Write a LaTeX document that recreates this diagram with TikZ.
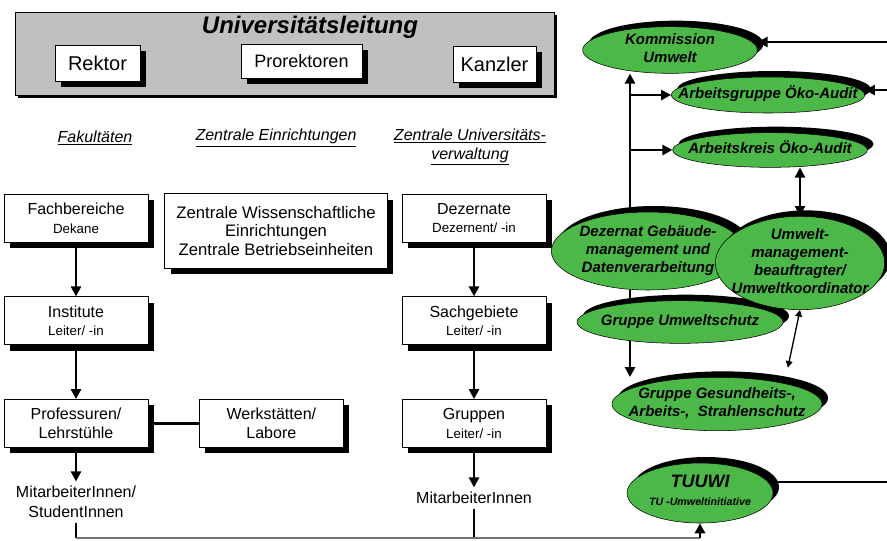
\documentclass[tikz,border=0pt]{standalone}
\usepackage{fontspec}
\setmainfont{Liberation Sans}
\usetikzlibrary{arrows.meta,shapes.geometric,shadows,backgrounds}
\definecolor{umweltgreen}{RGB}{76,184,72}
\definecolor{leitgray}{RGB}{192,192,192}
\newcommand{\elltext}[1]{\makebox[0pt]{\raisebox{-0.25em}[0pt][0pt]{\begin{tabular}{@{}c@{}}#1\end{tabular}}}}
\begin{document}
\begin{tikzpicture}[x=0.75pt, y=-0.75pt, node distance=77pt, >={Triangle[length=7.5pt,width=7.5pt]}]
    \tikzstyle{box} = [rectangle, minimum width=108pt, minimum height=36pt, draw=black, fill=white, align=center, font=\fontsize{12}{14}\selectfont, drop shadow={shadow xshift=4.5pt, shadow yshift=-4.5pt, opacity=1, fill=black}]
    \tikzstyle{leit} = [rectangle, draw=black, fill=white, drop shadow={shadow xshift=4.5pt, shadow yshift=-4.5pt, opacity=1, fill=black}]
    \tikzstyle{ell} = [ellipse, draw=black, fill=umweltgreen, inner sep=0pt, font=\fontsize{11.25}{13.5}\selectfont\bfseries\itshape, drop shadow={shadow xshift=4.5pt, shadow yshift=4.5pt, opacity=1, fill=black}]
    \tikzstyle{head} = [align=center, font=\fontsize{12}{14.5}\selectfont\itshape]
    \tikzstyle{staff} = [align=center, font=\fontsize{12}{15}\selectfont]
    \tikzstyle{link} = [line width=2pt]
    \useasboundingbox (0,0) rectangle (887,540);

    \node (uleit) [rectangle, draw=black, fill=leitgray, minimum width=404pt, minimum height=62pt, drop shadow={shadow xshift=2.25pt, shadow yshift=-2.25pt, opacity=1, fill=black}] at (284.5,53.5) {};
    \node (title) at (310,27) {\fontsize{18}{21}\selectfont\bfseries\itshape Universitätsleitung};
    \node (rektor) [leit, minimum width=64pt, minimum height=27pt, font=\fontsize{15}{18}\selectfont] at (97.5,63) {Rektor};
    \node (prorekt) [leit, minimum width=91pt, minimum height=25.5pt, font=\fontsize{13.5}{16}\selectfont] at (301.5,61) {Prorektoren};
    \node (kanzler) [leit, minimum width=62pt, minimum height=27pt, font=\fontsize{15}{18}\selectfont] at (494.5,64) {Kanzler};

    \node (hfak) [head] at (95,138) {\underline{Fakultäten}};
    \node (hzen) [head] at (276,138) {\underline{Zentrale Einrichtungen}};
    \node (hzuv) [head] at (470,147) {\underline{Zentrale Universitäts-}\\\underline{verwaltung}};

    \node (fb) [box] at (76,218) {Fachbereiche\\{\fontsize{10}{12}\selectfont Dekane}};
    \node (inst) [box, below of=fb] {Institute\\{\fontsize{10}{12}\selectfont Leiter/ -in}};
    \node (prof) [box, below of=inst] {Professuren/\\Lehrstühle};
    \node (werk) [box, node distance=146.5pt, right of=prof] {Werkstätten/\\Labore};
    \node (ms) [staff, node distance=59pt, below of=prof] {MitarbeiterInnen/\\StudentInnen};

    \node (zwe) [box, minimum width=167pt, minimum height=56pt, font=\fontsize{12.5}{14}\selectfont] at (276,231) {Zentrale Wissenschaftliche\\Einrichtungen\\Zentrale Betriebseinheiten};

    \node (dez) [box] at (474,218) {Dezernate\\{\fontsize{10}{12}\selectfont Dezernent/ -in}};
    \node (sach) [box, below of=dez] {Sachgebiete\\{\fontsize{10}{12}\selectfont Leiter/ -in}};
    \node (grp) [box, below of=sach] {Gruppen\\{\fontsize{10}{12}\selectfont Leiter/ -in}};
    \node (mr) [staff, node distance=56pt, below of=grp] {MitarbeiterInnen};

    \node (kom) [ell, minimum width=131pt, minimum height=35pt] at (670,50) {\elltext{Kommission\\Umwelt}};
    \node (agu) [ell, minimum width=145pt, minimum height=27pt] at (768,95) {\elltext{Arbeitsgruppe Öko-Audit}};
    \node (akr) [ell, minimum width=146pt, minimum height=26pt] at (770,150) {\elltext{Arbeitskreis Öko-Audit}};
    \node (dzg) [ell, minimum width=145pt, minimum height=58.5pt] at (648,251) {\elltext{Dezernat Gebäude-\\management und\\Datenverarbeitung}};
    \node (gus) [ell, minimum width=154.5pt, minimum height=32pt] at (680,322) {\elltext{Gruppe Umweltschutz}};
    \node (umb) [ell, minimum width=127pt, minimum height=70pt] at (800,263) {\elltext{Umwelt-\\management-\\beauftragter/\\Umweltkoordinator}};
    \node (ggs) [ell, minimum width=157.5pt, minimum height=40pt] at (717,404) {\elltext{Gruppe Gesundheits-,\\Arbeits-,~ Strahlenschutz}};
    \node (tuw) [ell, minimum width=109.5pt, minimum height=45pt] at (700,493) {\elltext{{\fontsize{13.5}{14}\selectfont TUUWI}\\{\fontsize{8}{10}\selectfont TU -Umweltinitiative}}};

    \coordinate (spine) at (630,0);
    \coordinate (inkom) at (887,42);
    \coordinate (inagu) at (887,90);
    \coordinate (outtuw) at (887,482);
    \coordinate (bus) at (0,538);

    \draw[->, link] (fb) -- (inst);
    \draw[->, link] (inst) -- (prof);
    \draw[->, link] (prof) -- (ms);
    \draw[link] (prof) -- (werk);
    \draw[->, link] (dez) -- (sach);
    \draw[->, link] (sach) -- (grp);
    \draw[->, link] (grp) -- (mr);

    \draw[link] (ms.south) -- (ms.south |- bus);
    \draw[link] (mr.south) -- (mr.south |- bus);
    \draw[line width=1pt, black!55] (ms.south |- bus) -- (tuw.south |- bus);
    \draw[->, link] (tuw.south |- bus) -- (tuw.south);

    \begin{scope}[on background layer]
    \draw[->, link] (dzg.north -| spine) -- (kom.south -| spine);
    \draw[->, link] (dzg.south -| spine) -- (ggs.north -| spine);
    \end{scope}
    \draw[->, link] (agu.west -| spine) -- (agu.west);
    \draw[->, link] (akr.west -| spine) -- (akr.west);
    \draw[<->, link] (akr.south -| umb.north) -- (umb.north);
    \draw[{Triangle[length=5pt,width=5pt]}-{Triangle[length=5pt,width=5pt]}, line width=1pt, shorten >=12pt] (umb.south) -- (ggs.17);

    \draw[->, link] (inkom) -- (inkom -| kom.east);
    \draw[->, link] (inagu) -- (inagu -| agu.east);
    \draw[link] (tuw.east |- outtuw) -- (outtuw);
\end{tikzpicture}
\end{document}
